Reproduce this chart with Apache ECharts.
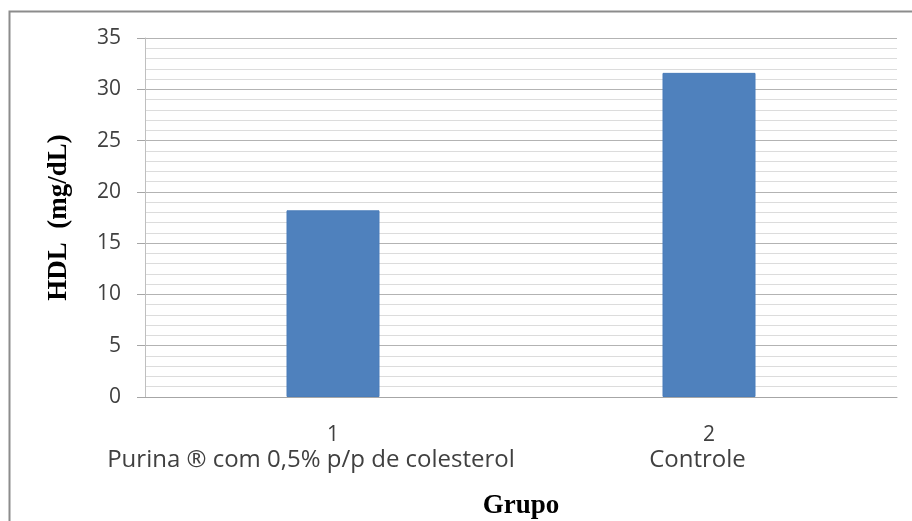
<!DOCTYPE html>
<html><head><meta charset="utf-8">
<script src="https://cdn.jsdelivr.net/npm/echarts@6/dist/echarts.min.js"></script>
<style>html,body{margin:0;padding:0;background:#fff}#c{width:912px;height:521px}</style>
</head><body><div id="c"></div>
<script>
var groupNumbers = ['1', '2'];
var groupNames = ['Purina \u00AE com 0,5% p/p de colesterol', 'Controle'];
var hdlValues = [18.2, 31.6];
var yTitle = 'HDL  (mg/dL)';
var xTitle = 'Grupo';

var chart = echarts.init(document.getElementById('c'), null, {renderer: 'canvas'});
var labelFont = 'Open Sans';
chart.setOption({
  animation: false,
  backgroundColor: '#fff',
  graphic: [{
    type: 'rect', shape: {x: 9.5, y: 11.5, width: 940, height: 560},
    style: {fill: 'none', stroke: '#8c8c8c', lineWidth: 2}, silent: true
  }],
  grid: {left: 145, right: 15, top: 38, bottom: 124, containLabel: false, outerBoundsMode: 'none'},
  xAxis: [{
    type: 'category', data: groupNumbers, position: 'bottom',
    axisLine: {show: true, lineStyle: {color: '#a6a6a6', width: 1}},
    axisTick: {show: false},
    axisLabel: {interval: 0, margin: 28, color: '#404040', fontFamily: labelFont, fontSize: 21},
    splitLine: {show: false},
    name: xTitle, nameLocation: 'middle', nameGap: 96,
    nameTextStyle: {fontFamily: 'Liberation Serif', fontWeight: 'bold', fontSize: 27, color: '#000'}
  }, {
    type: 'category', data: groupNames, position: 'bottom',
    axisLine: {show: false}, axisTick: {show: false},
    axisLabel: {
      interval: 0, hideOverlap: false,
      margin: 51, color: '#404040', fontFamily: labelFont, fontSize: 24,
      formatter: function (v, i) { return i === 0 ? '{a|' + v + '}' : '{b|' + v + '}'; },
      rich: {
        a: {padding: [0, 44, 0, 0], color: '#404040', fontFamily: labelFont, fontSize: 24},
        b: {padding: [0, 23, 0, 0], color: '#404040', fontFamily: labelFont, fontSize: 24}
      }
    }
  }],
  yAxis: {
    type: 'value', min: 0, max: 35, interval: 5,
    axisLine: {show: true, lineStyle: {color: '#bfbfbf', width: 1}},
    axisTick: {show: true, length: 8, lineStyle: {color: '#a6a6a6'}},
    axisLabel: {margin: 24, color: '#404040', fontFamily: labelFont, fontSize: 21},
    splitLine: {show: true, lineStyle: {color: '#b3b3b3', width: 1}},
    minorTick: {show: false, splitNumber: 5},
    minorSplitLine: {show: true, lineStyle: {color: '#dcdcdc', width: 1}},
    name: yTitle, nameLocation: 'middle', nameGap: 72, nameRotate: 90,
    nameTextStyle: {fontFamily: 'Liberation Serif', fontWeight: 'bold', fontSize: 27, color: '#000'}
  },
  series: [{
    type: 'bar', data: hdlValues, barWidth: 93, xAxisIndex: 0,
    itemStyle: {color: '#4f81bd', borderColor: '#4a7dba', borderWidth: 1}
  }]
});
</script></body></html>
